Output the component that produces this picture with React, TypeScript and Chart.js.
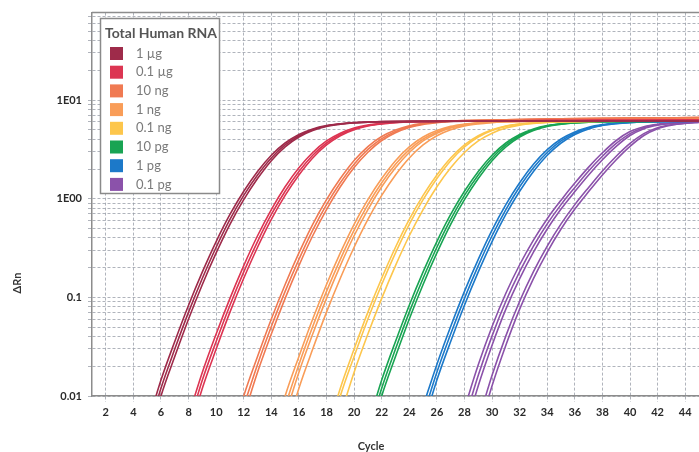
import { useEffect, useRef } from "react";
import { Chart, registerables } from "chart.js";

Chart.register(...registerables);

// ---------- data ----------
const legendTitle = "Total Human RNA";
const xTitle = "Cycle";
const yTitle = "ΔRn";

const groupLabels = ["1 µg", "0.1 µg", "10 ng", "1 ng", "0.1 ng", "10 pg", "1 pg", "0.1 pg"];
const groupColors = ["#9e2b4a", "#dc3552", "#f07a52", "#f99d58", "#fdc64c", "#19a453", "#1c79c9", "#8b52aa"];

const xTickValues = [2, 4, 6, 8, 10, 12, 14, 16, 18, 20, 22, 24, 26, 28, 30, 32, 34, 36, 38, 40, 42, 44];
const yDecades = [0.01, 0.1, 1, 10];
const yDecadeLabels = ["0.01", "0.1", "1E00", "1E01"];
const yMultipliers = [1, 2, 3, 4, 5, 6, 7, 8, 9];

type Trace = { start: number; values: number[] };

// ΔRn readings per cycle for each replicate, starting at cycle `start`
const rna1ug: Trace[] = [
  { start: 5, values: [0.005, 0.0145, 0.0357, 0.0832, 0.181, 0.368, 0.692, 1.19, 1.89, 2.76, 3.67, 4.48, 5.1, 5.52, 5.76, 5.91, 6.0] },
  { start: 5, values: [0.004, 0.012, 0.0299, 0.0708, 0.156, 0.322, 0.617, 1.08, 1.74, 2.59, 3.51, 4.35, 5.0, 5.46, 5.72, 5.88, 5.98] },
  { start: 5, values: [0.0032, 0.01, 0.0251, 0.0603, 0.135, 0.282, 0.55, 0.977, 1.6, 2.43, 3.35, 4.22, 4.9, 5.41, 5.69, 5.86, 5.97, 6.04] },
];
const rna01ug: Trace[] = [
  { start: 8, values: [0.0063, 0.0174, 0.0425, 0.0977, 0.21, 0.421, 0.776, 1.32, 2.06, 2.94, 3.85, 4.61, 5.2, 5.57, 5.8, 5.95, 6.04] },
  { start: 8, values: [0.005, 0.0145, 0.0357, 0.0832, 0.181, 0.368, 0.692, 1.19, 1.89, 2.76, 3.67, 4.48, 5.1, 5.52, 5.77, 5.93, 6.03] },
  { start: 8, values: [0.004, 0.012, 0.0299, 0.0708, 0.156, 0.322, 0.617, 1.08, 1.74, 2.59, 3.51, 4.35, 5.0, 5.46, 5.73, 5.9, 6.01] },
];
const rna10ng: Trace[] = [
  { start: 11, values: [0.0032, 0.01, 0.0251, 0.0603, 0.135, 0.282, 0.55, 0.977, 1.6, 2.44, 3.38, 4.27, 4.97, 5.5, 5.8, 5.99, 6.12, 6.2] },
  { start: 12, values: [0.0079, 0.0209, 0.0506, 0.115, 0.243, 0.481, 0.871, 1.45, 2.24, 3.16, 4.07, 4.81, 5.38, 5.73, 5.95, 6.09, 6.18] },
  { start: 12, values: [0.0063, 0.0174, 0.0425, 0.0977, 0.21, 0.421, 0.776, 1.32, 2.07, 2.96, 3.89, 4.67, 5.28, 5.67, 5.91, 6.07, 6.16] },
];
const rna1ng: Trace[] = [
  { start: 14, values: [0.0032, 0.01, 0.0251, 0.0603, 0.135, 0.282, 0.55, 0.977, 1.6, 2.43, 3.35, 4.22, 4.9, 5.41, 5.7, 5.88, 6.0, 6.07] },
  { start: 15, values: [0.0079, 0.0209, 0.0506, 0.115, 0.243, 0.481, 0.871, 1.45, 2.23, 3.14, 4.03, 4.75, 5.3, 5.64, 5.85, 5.98, 6.06] },
  { start: 15, values: [0.0063, 0.0174, 0.0425, 0.0977, 0.21, 0.421, 0.776, 1.32, 2.06, 2.94, 3.85, 4.61, 5.2, 5.58, 5.81, 5.96, 6.05] },
  { start: 15, values: [0.004, 0.012, 0.0299, 0.0708, 0.156, 0.322, 0.617, 1.08, 1.74, 2.59, 3.51, 4.35, 5.0, 5.47, 5.74, 5.91, 6.02] },
];
const rna01ng: Trace[] = [
  { start: 18, values: [0.004, 0.012, 0.0299, 0.0708, 0.156, 0.322, 0.617, 1.08, 1.74, 2.59, 3.51, 4.35, 5.0, 5.46, 5.72, 5.88, 5.98] },
  { start: 18, values: [0.0032, 0.01, 0.0251, 0.0603, 0.135, 0.282, 0.55, 0.977, 1.6, 2.43, 3.35, 4.22, 4.9, 5.41, 5.69, 5.86, 5.97, 6.04] },
  { start: 19, values: [0.0063, 0.0174, 0.0425, 0.0977, 0.21, 0.421, 0.776, 1.32, 2.06, 2.94, 3.85, 4.61, 5.2, 5.57, 5.79, 5.93, 6.01] },
];
const rna10pg: Trace[] = [
  { start: 21, values: [0.005, 0.0145, 0.0357, 0.0832, 0.181, 0.368, 0.692, 1.19, 1.89, 2.76, 3.67, 4.48, 5.1, 5.52, 5.76, 5.91, 6.0] },
  { start: 21, values: [0.004, 0.012, 0.0299, 0.0708, 0.156, 0.322, 0.617, 1.08, 1.74, 2.59, 3.51, 4.35, 5.0, 5.46, 5.72, 5.88, 5.98] },
  { start: 21, values: [0.0032, 0.01, 0.0251, 0.0603, 0.135, 0.282, 0.55, 0.977, 1.6, 2.43, 3.35, 4.22, 4.9, 5.41, 5.69, 5.86, 5.97, 6.04] },
];
const rna1pg: Trace[] = [
  { start: 25, values: [0.0079, 0.0209, 0.0506, 0.115, 0.243, 0.481, 0.871, 1.45, 2.23, 3.14, 4.03, 4.75, 5.3, 5.63, 5.83, 5.95, 6.03] },
  { start: 25, values: [0.0063, 0.0174, 0.0425, 0.0977, 0.21, 0.421, 0.776, 1.32, 2.06, 2.94, 3.85, 4.61, 5.2, 5.57, 5.79, 5.93, 6.01] },
  { start: 25, values: [0.005, 0.0145, 0.0357, 0.0832, 0.181, 0.368, 0.692, 1.19, 1.89, 2.76, 3.67, 4.48, 5.1, 5.52, 5.76, 5.91, 6.0] },
];
const rna01pg: Trace[] = [
  { start: 28, values: [0.0075, 0.0207, 0.0507, 0.11, 0.214, 0.38, 0.627, 0.966, 1.44, 2.09, 2.92, 3.89, 4.79, 5.37, 5.69, 5.85, 5.93, 5.97] },
  { start: 28, values: [0.0056, 0.0162, 0.0407, 0.0912, 0.182, 0.331, 0.556, 0.871, 1.3, 1.91, 2.69, 3.63, 4.57, 5.25, 5.62, 5.82, 5.96, 6.0] },
  { start: 28, values: [0.0042, 0.0127, 0.0327, 0.0759, 0.155, 0.288, 0.493, 0.785, 1.18, 1.74, 2.48, 3.39, 4.37, 5.13, 5.56, 5.79, 5.92, 5.98] },
  { start: 29, values: [0.0056, 0.0162, 0.0407, 0.0912, 0.182, 0.331, 0.556, 0.871, 1.3, 1.91, 2.69, 3.63, 4.57, 5.25, 5.62, 5.82, 5.96] },
  { start: 29, values: [0.0042, 0.0127, 0.0327, 0.0759, 0.155, 0.288, 0.493, 0.785, 1.18, 1.74, 2.48, 3.39, 4.37, 5.13, 5.56, 5.79, 5.92] },
];

// plateau readings (cycle, ΔRn) shared by the replicates of each group
const plateauCycles = [
  [25, 30, 35, 40, 45],
  [28, 32, 36, 40, 45],
  [31, 35, 40, 45],
  [34, 38, 42, 45],
  [38, 42, 45],
  [41, 45],
  [43, 45],
  [],
];
const plateauValues = [
  [6.08, 6.1, 6.12, 6.14, 6.15],
  [6.1, 6.16, 6.2, 6.25, 6.3],
  [6.3, 6.45, 6.56, 6.65],
  [6.15, 6.3, 6.42, 6.5],
  [6.12, 6.3, 6.4],
  [6.08, 6.2],
  [6.06, 6.1],
  [],
];

const groupTraces = [rna1ug, rna01ug, rna10ng, rna1ng, rna01ng, rna10pg, rna1pg, rna01pg];

// ---------- styles ----------
const FONT = "Lato, 'Open Sans', 'DejaVu Sans', sans-serif";
const GRID = "rgba(150,155,165,0.75)";
const AXIS = "#8c8c8c";

const yGridValues = yDecades
  .flatMap((d) => yMultipliers.map((m) => Number((d * m).toPrecision(6))))
  .filter((v) => v <= 77);

function yLabel(v: number): string {
  for (let i = 0; i < yDecades.length; i++) {
    if (Math.abs(Math.log10(v) - Math.log10(yDecades[i])) < 1e-6) return yDecadeLabels[i];
  }
  return "";
}

const framePlugin = {
  id: "frameTop",
  beforeDatasetsDraw(chart: any) {
    const { ctx, chartArea } = chart;
    ctx.save();
    ctx.strokeStyle = AXIS;
    ctx.lineWidth = 1.5;
    ctx.beginPath();
    ctx.moveTo(chartArea.left, chartArea.top);
    ctx.lineTo(chartArea.right, chartArea.top);
    ctx.stroke();
    ctx.restore();
  },
};

const titlesPlugin = {
  id: "axisTitles",
  afterDraw(chart: any) {
    const { ctx } = chart;
    ctx.save();
    ctx.font = `bold 11px ${FONT}`;
    ctx.fillStyle = "#333";
    ctx.textAlign = "center";
    ctx.textBaseline = "middle";
    ctx.fillText(xTitle, 371, 446);
    ctx.translate(17.5, 283);
    ctx.rotate(-Math.PI / 2);
    ctx.fillText(yTitle, 0, 0);
    ctx.restore();
  },
};

const legendPlugin = {
  id: "boxLegend",
  afterDraw(chart: any) {
    const { ctx } = chart;
    const bx = 100.5, by = 18.5, bw = 119, bh = 175;
    ctx.save();
    ctx.fillStyle = "#fff";
    ctx.fillRect(bx, by, bw, bh);
    ctx.strokeStyle = "#8a8a8a";
    ctx.lineWidth = 1.5;
    ctx.strokeRect(bx, by, bw, bh);
    ctx.textBaseline = "middle";
    ctx.textAlign = "left";
    ctx.font = `bold 14px ${FONT}`;
    ctx.fillStyle = "#555";
    ctx.fillText(legendTitle, 105, 33);
    ctx.font = `13px ${FONT}`;
    groupLabels.forEach((lab, i) => {
      const cy = 53.5 + i * 18.7;
      ctx.fillStyle = groupColors[i];
      ctx.fillRect(110, cy - 6.5, 13, 13);
      ctx.fillStyle = "#7a7a7a";
      ctx.fillText(lab, 136, cy);
    });
    ctx.restore();
  },
};

export default function App() {
  const ref = useRef<HTMLCanvasElement>(null);

  useEffect(() => {
    if (!ref.current) return;
    const datasets: any[] = [];
    groupTraces.forEach((traces, gi) => {
      traces.forEach((t) => {
        const pts = t.values.map((v, i) => ({ x: t.start + i, y: v }));
        plateauCycles[gi].forEach((c, k) => pts.push({ x: c, y: plateauValues[gi][k] }));
        datasets.push({
          label: groupLabels[gi],
          data: pts,
          borderColor: groupColors[gi],
          backgroundColor: groupColors[gi],
          borderWidth: 1.6,
          pointRadius: 0,
          fill: false,
          cubicInterpolationMode: "monotone",
        });
      });
    });

    const tickFont = { family: FONT, size: 11, weight: "bold" as const };

    const chart = new Chart(ref.current, {
      type: "line",
      data: { datasets },
      options: {
        animation: false,
        responsive: true,
        maintainAspectRatio: false,
        layout: { padding: { top: 11, left: 0, right: 0, bottom: 0 } },
        plugins: { legend: { display: false }, tooltip: { enabled: false } },
        scales: {
          x: {
            type: "linear",
            min: 1,
            max: 45,
            afterBuildTicks: (s: any) => {
              s.ticks = xTickValues.map((v) => ({ value: v }));
            },
            afterFit: (s: any) => {
              s.height = 56;
            },
            grid: {
              color: GRID,
              lineWidth: 1,
              drawTicks: true,
              tickLength: 6,
              tickColor: GRID,
              tickBorderDash: [3, 2],
            },
            border: { display: true, color: AXIS, width: 1.5, dash: [3, 2] },
            ticks: {
              font: tickFont,
              color: "#2a2a2a",
              padding: 4,
              maxRotation: 0,
              autoSkip: false,
              callback: (v: any) => String(v),
            },
          },
          y: {
            type: "logarithmic",
            min: 0.01,
            max: 77,
            afterBuildTicks: (s: any) => {
              s.ticks = yGridValues.map((v) => ({ value: v }));
            },
            afterFit: (s: any) => {
              s.width = 92;
            },
            grid: {
              color: GRID,
              lineWidth: 1,
              drawTicks: true,
              tickLength: 4,
              tickColor: GRID,
              tickBorderDash: [3, 2],
            },
            border: { display: true, color: AXIS, width: 1.5, dash: [3, 2] },
            ticks: {
              font: tickFont,
              color: "#2a2a2a",
              padding: 6,
              autoSkip: false,
              callback: (v: any) => yLabel(Number(v)),
            },
          },
        },
      },
      plugins: [framePlugin, titlesPlugin, legendPlugin],
    });
    return () => chart.destroy();
  }, []);

  return (
    <div style={{ position: "absolute", left: 0, top: 0, width: 699, height: 452, background: "#fff" }}>
      <canvas ref={ref} />
    </div>
  );
}
